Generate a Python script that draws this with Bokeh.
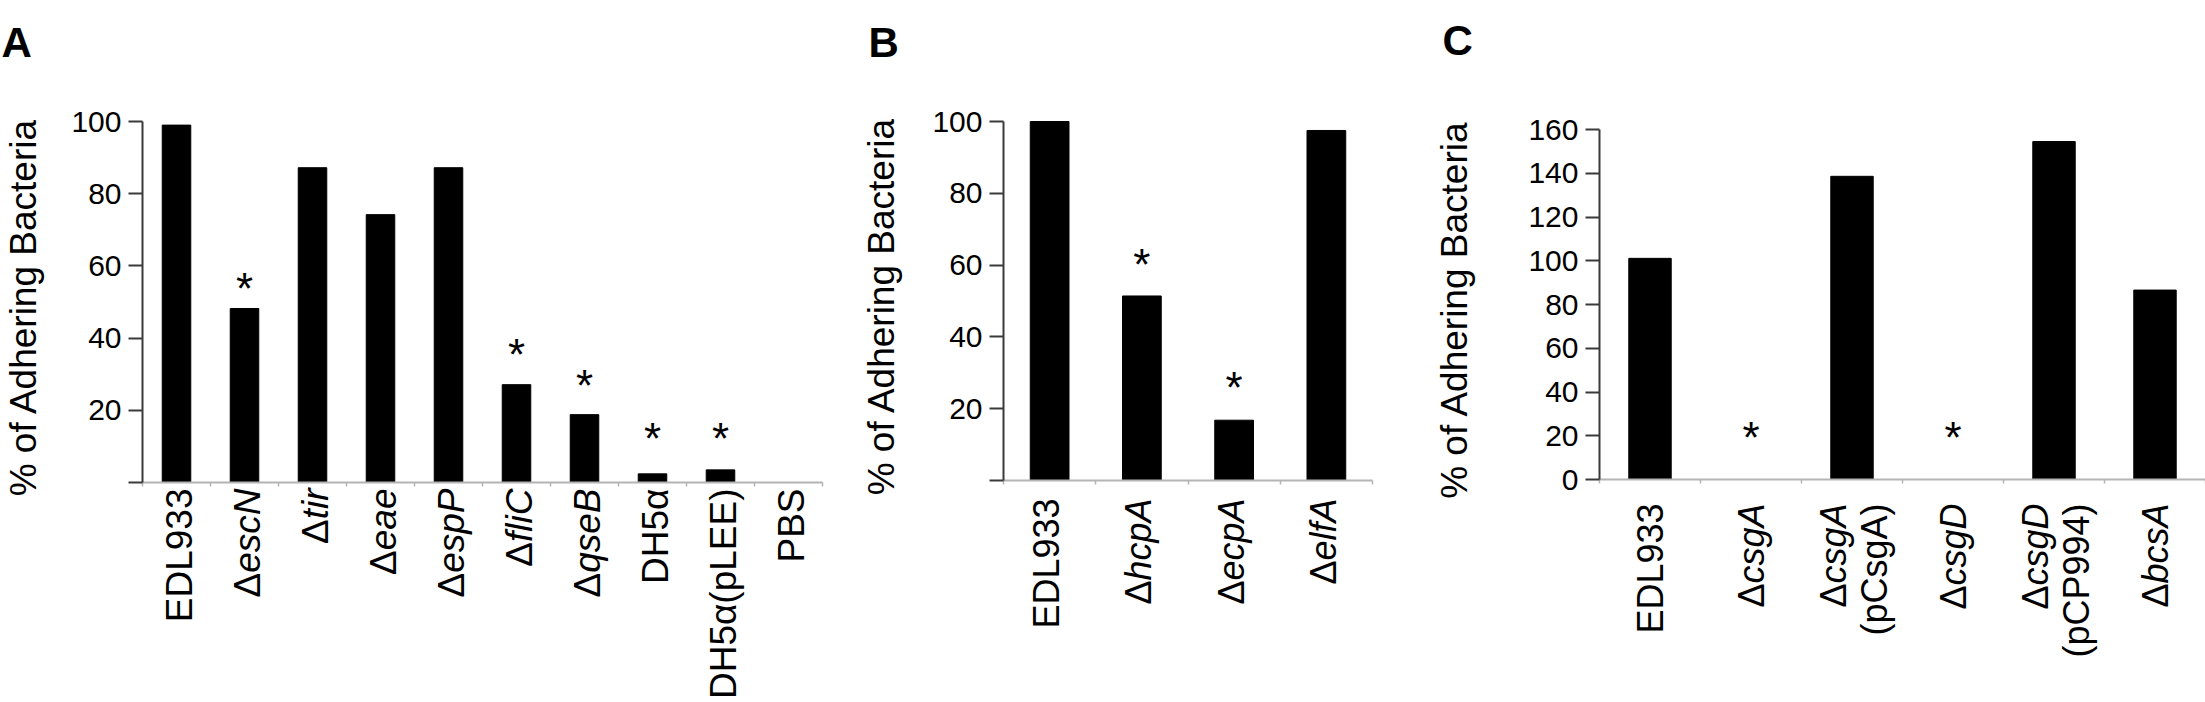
import numpy as np
from bokeh.plotting import figure
from bokeh.layouts import row
from bokeh.models import Range1d, FixedTicker, Label
from bokeh.core.properties import value
from bokeh.embed import file_html
from bokeh.resources import INLINE

FONT = "Liberation Sans"

# ---------------- data ----------------
a_prefix = ["", "Δ", "Δ", "Δ", "Δ", "Δ", "Δ", "", "", ""]
a_names = ["EDL933", "escN", "tir", "eae", "espP", "fliC", "qseB", "DH5α", "DH5α(pLEE)", "PBS"]
a_values = [99.0, 48.2, 87.2, 74.2, 87.2, 27.1, 18.8, 2.4, 3.5, 0.0]
a_star = [None, 55.5, None, None, None, 37.3, 28.6, 14.0, 14.0, None]
a_yticks = [0, 20, 40, 60, 80, 100]

b_prefix = ["", "Δ", "Δ", "Δ"]
b_names = ["EDL933", "hcpA", "ecpA", "elfA"]
b_values = [100.0, 51.4, 16.8, 97.5]
b_star = [None, 62.0, 27.7, None]
b_yticks = [0, 20, 40, 60, 80, 100]

c_prefix = ["", "Δ", "Δ", "Δ", "Δ", "Δ"]
c_names = ["EDL933", "csgA", "csgA", "csgD", "csgD", "bcsA"]
c_second = ["", "", "(pCsgA)", "", "(pCP994)", ""]
c_values = [101.1, 0.0, 138.6, 0.0, 154.5, 86.6]
c_star = [None, 22.0, None, 22.0, None, None]
c_yticks = [0, 20, 40, 60, 80, 100, 120, 140, 160]

y_title = "% of  Adhering Bacteria"

# approximate advance widths (em) of Liberation Sans, used to join upright/italic parts
EM = {'a': .556, 'b': .556, 'c': .5, 'd': .556, 'e': .556, 'f': .278, 'g': .556, 'h': .556,
      'i': .222, 'l': .222, 'n': .556, 'p': .556, 'q': .556, 'r': .333, 's': .5, 't': .278,
      'A': .667, 'B': .667, 'C': .722, 'D': .722, 'E': .667, 'H': .722, 'L': .556, 'N': .722,
      'P': .667, 'S': .667, '(': .333, ')': .333, 'Δ': .668, 'α': .578}


def text_w(s, size):
    return sum(EM.get(ch, .556) for ch in s) * size


FIG_H = 702


def panel(geo, prefix, names, second, vals, stars, yticks, label_zero, letter, letter_xy,
          lab_font, gap, dx, line_dx, ylab_standoff):
    fx, fig_w, fl, fr, ft, fb, n, ymax = geo
    W = fr - fl
    H = fb - ft

    def dxd(X):  # page x -> data x
        return (X - fl) / W * n

    def dyd(Y):  # page y -> data y
        return (fb - Y) / H * ymax

    p = figure(width=fig_w, height=FIG_H,
               x_range=Range1d(dxd(fx), dxd(fx + fig_w)),
               y_range=Range1d(dyd(FIG_H), dyd(0)),
               min_border_left=0, min_border_right=0, min_border_top=0, min_border_bottom=0,
               output_backend="svg", toolbar_location=None)
    p.outline_line_color = None
    p.grid.visible = False
    p.background_fill_color = "white"
    p.border_fill_color = "white"

    centers = np.arange(n) + 0.5
    p.vbar(x=centers, top=vals, bottom=0, width=0.42, fill_color="black", line_color="black")

    si = [i for i, s in enumerate(stars) if s is not None]
    star_size = 44
    sx = [centers[i] for i in si]
    sy = [stars[i] - 0.14 * star_size / H * ymax for i in si]
    p.text(x=sx, y=sy, text=["*"] * len(si), text_font=value(FONT),
           text_font_size=f"{star_size}px", text_align="center", text_baseline="middle",
           text_color="black")

    # y axis, drawn at x = 0
    ya = p.yaxis[0]
    ya.fixed_location = 0
    ya.bounds = (0, ymax)
    ya.ticker = FixedTicker(ticks=yticks)
    if not label_zero:
        ya.major_label_overrides = {0: ""}
    ya.axis_line_color = "#3a3a3a"
    ya.axis_line_width = 2
    ya.major_tick_line_color = "#3a3a3a"
    ya.major_tick_line_width = 2
    ya.major_tick_out = 14
    ya.major_tick_in = 0
    ya.minor_tick_line_color = None
    ya.major_label_text_font = FONT
    ya.major_label_text_font_size = "30px"
    ya.major_label_text_color = "black"
    ya.major_label_standoff = 7
    ya.axis_label = y_title
    ya.axis_label_text_font = FONT
    ya.axis_label_text_font_size = "37px"
    ya.axis_label_text_font_style = "normal"
    ya.axis_label_text_color = "black"
    ya.axis_label_standoff = ylab_standoff

    # x axis at y = 0, ticks at category boundaries; category names drawn as labels
    xa = p.xaxis[0]
    xa.fixed_location = 0
    xa.bounds = (0, n)
    xa.ticker = FixedTicker(ticks=list(range(n + 1)))
    xa.major_label_overrides = {i: "" for i in range(n + 1)}
    xa.major_label_text_font_size = "1px"
    xa.axis_line_color = "#b4b4b4"
    xa.axis_line_width = 2
    xa.major_tick_line_color = "#b4b4b4"
    xa.major_tick_line_width = 1.5
    xa.major_tick_out = 4
    xa.major_tick_in = 0
    xa.minor_tick_line_color = None

    for i in range(n):
        cx = fl + (i + 0.5) * W / n + dx
        lines = [(prefix[i], names[i])]
        if second is not None and second[i]:
            lines.append(("", second[i]))
        offs = [0] if len(lines) == 1 else line_dx
        for (pre, name), off in zip(lines, offs):
            X = cx + off
            Ytop = fb + gap
            p.add_layout(Label(x=dxd(X), y=dyd(Ytop), text=name, angle=np.pi / 2,
                               text_align="right", text_baseline="middle", text_font=FONT,
                               text_font_size=f"{lab_font}px", text_color="black",
                               text_font_style="italic" if pre else "normal"))
            if pre:
                Y2 = Ytop + text_w(name, lab_font)
                p.add_layout(Label(x=dxd(X), y=dyd(Y2), text=pre, angle=np.pi / 2,
                                   text_align="right", text_baseline="middle", text_font=FONT,
                                   text_font_size=f"{lab_font}px", text_color="black",
                                   text_font_style="normal"))

    lx, ly = letter_xy
    p.add_layout(Label(x=dxd(lx), y=dyd(ly), text=letter, text_align="left",
                       text_baseline="alphabetic", text_font=FONT, text_font_size="42px",
                       text_font_style="bold", text_color="black"))
    return p


# geometry in page pixels: fig_x, fig_w, frame_left(y axis), x-axis end, top tick, x-axis y, n, ymax
pA = panel((0, 840, 142, 822, 121, 482, len(a_names), 100), a_prefix, a_names, None, a_values,
           a_star, a_yticks, False, "A", (1, 42), 37, 6, 3, None, 24)
pB = panel((840, 560, 1003, 1372, 121, 480, len(b_names), 100), b_prefix, b_names, None, b_values,
           b_star, b_yticks, False, "B", (868, 42), 36, 18, -3, None, 27)
pC = panel((1400, 805, 1599, 2205, 129, 479, len(c_names), 160), c_prefix, c_names, c_second,
           c_values, c_star, c_yticks, True, "C", (1442, 40), 36, 24, 0, [-19, 22], 50)

layout = row(pA, pB, pC)
open("out.html", "w").write(file_html(layout, INLINE))
